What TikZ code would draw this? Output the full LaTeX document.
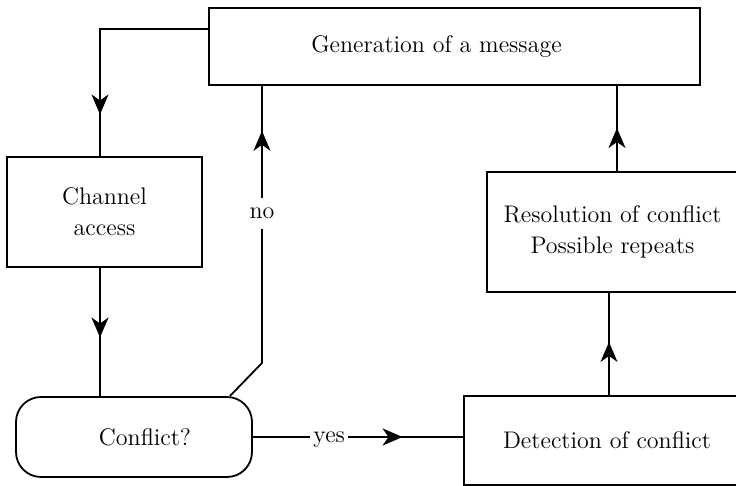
\documentclass[tikz,border=0pt]{standalone}
\usetikzlibrary{arrows.meta,decorations.markings}
\begin{document}
\begin{tikzpicture}[x=0.5pt,y=-0.5pt,
  every node/.style={font=\fontsize{12}{15.5}\selectfont},
  box/.style={draw, line width=0.9pt, rectangle, inner sep=0pt, align=center},
  link/.style={line width=0.9pt},
  tipat/.style={postaction={decorate},
    decoration={markings, mark=at position #1 with {\arrow{Stealth[length=10pt,width=8.5pt,inset=3pt]}}}},
  tag/.style={fill=white, inner xsep=1.5pt, inner ysep=5pt},
]
\clip (0,0) rectangle (736,486);

% process boxes
\node[box, minimum width=245.5pt, minimum height=38.5pt,
      label={[xshift=-9pt]center:Generation of a message}] (gen) at (454.5,46.5) {};
\node[box, minimum width=97.5pt, minimum height=55pt] (ch) at (104.5,212) {Channel\\access};
\node[box, rounded corners=12.5pt, minimum width=118pt, minimum height=40pt,
      label={[xshift=5.5pt]center:Conflict?}] (conf) at (134,437) {};
\node[box, minimum width=143pt, minimum height=44.5pt] (det) at (607,440.5) {Detection of conflict};
\node[box, minimum width=125.5pt, minimum height=60pt] (res) at (612.5,232)
      {Resolution of conflict\\Possible repeats};

% bend of the "no" branch
\coordinate (nobend) at (262,363);

% connectors
\draw[link, tipat=0.823] ([yshift=8.75pt]gen.west) -| ([xshift=-2.25pt]ch.north);
\draw[link, tipat=0.543] ([xshift=-2.25pt]ch.south) -- ([xshift=-2.25pt]ch.south |- conf.north);
\draw[link, tipat=0.861] ([xshift=-11.5pt]conf.north east) -- (nobend)
      -- node[tag, pos=0.54] {no} (nobend |- gen.south);
\draw[link, tipat=0.712] (conf.east) -- node[tag, pos=0.363, yshift=-1.5pt] {yes} (conf.east -| det.west);
\draw[link, tipat=0.52] ([xshift=1pt]det.north) -- ([xshift=1pt]det.north |- res.south);
\draw[link, tipat=0.506] ([xshift=2.25pt]res.north) -- ([xshift=2.25pt]res.north |- gen.south);
\end{tikzpicture}
\end{document}
